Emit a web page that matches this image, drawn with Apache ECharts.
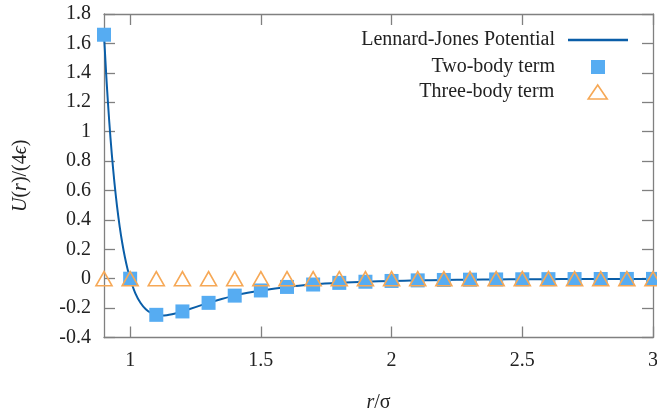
<!DOCTYPE html>
<html><head><meta charset="utf-8">
<script src="https://cdn.jsdelivr.net/npm/echarts@6/dist/echarts.min.js"></script>
<style>html,body{margin:0;padding:0;background:#fff}#c{width:657px;height:418px}</style>
</head><body><div id="c"></div>
<script>
// Lennard-Jones curve samples [r, U/(4eps)]
const ljR = [0.9,0.91,0.92,0.93,0.94,0.95,0.96,0.97,0.98,0.99,1.0,1.02,1.04,1.06,1.08,1.1,1.12,1.14,1.16,1.18,1.2,1.25,1.3,1.35,1.4,1.45,1.5,1.6,1.7,1.8,1.9,2.0,2.1,2.2,2.3,2.4,2.5,2.6,2.7,2.8,2.9,3.0];
const ljU = [1.659,1.340,1.0707,0.8433,0.6516,0.4903,0.3546,0.2407,0.1455,0.0660,0,-0.0995,-0.1657,-0.2080,-0.2331,-0.2458,-0.2500,-0.2480,-0.2420,-0.2332,-0.2227,-0.1934,-0.1643,-0.1379,-0.1152,-0.0960,-0.0801,-0.0561,-0.0397,-0.0285,-0.0208,-0.0154,-0.0115,-0.0087,-0.0067,-0.0052,-0.0041,-0.0032,-0.0026,-0.0021,-0.0017,-0.0014];
// sampled terms
const termR = [0.9,1.0,1.1,1.2,1.3,1.4,1.5,1.6,1.7,1.8,1.9,2.0,2.1,2.2,2.3,2.4,2.5,2.6,2.7,2.8,2.9,3.0];
const twoBody = [1.659,0,-0.2458,-0.2227,-0.1643,-0.1152,-0.0801,-0.0561,-0.0397,-0.0285,-0.0208,-0.0154,-0.0115,-0.0087,-0.0067,-0.0052,-0.0041,-0.0032,-0.0026,-0.0021,-0.0017,-0.0014];
const threeBody = [0,0,0,0,0,0,0,0,0,0,0,0,0,0,0,0,0,0,0,0,0,0];
const xTicks = [1,1.5,2,2.5,3];
const yTicks = [-0.4,-0.2,0,0.2,0.4,0.6,0.8,1,1.2,1.4,1.6,1.8];
const seriesNames = ['Lennard-Jones Potential','Two-body term','Three-body term'];

const FONT = 'Liberation Serif';
const FS = 20;
const TXT = '#222';
const FRAME = '#808080';
const LINE = '#0a5ea8', SQ = '#56acf2', TRI = '#f6a856';
const chart = echarts.init(document.getElementById('c'));
const axisBase = {
  axisLine:{show:true,onZero:false,lineStyle:{color:FRAME,width:1.3}},
  axisTick:{show:true,inside:true,length:11,lineStyle:{color:FRAME,width:1.3}},
  splitLine:{show:false}
};
const richI = {i:{fontStyle:'italic',fontFamily:FONT,fontSize:FS,color:TXT}};
function leg(name, top, right, w, h, icon, pad, extra){
  return Object.assign({
    orient:'vertical', right:right, top:top, padding:0, align:'right',
    itemWidth:w, itemHeight:h, icon:icon,
    textStyle:{fontFamily:FONT,fontSize:FS,color:TXT,padding:[0,pad,0,0]},
    data:[name]
  }, extra||{});
}
chart.setOption({
  animation:false,
  textStyle:{fontFamily:FONT},
  grid:{left:104,right:4,top:14,bottom:80.5,outerBoundsMode:'none',containLabel:false},
  legend:[
    leg(seriesNames[0], 30, 29, 60, 2.5, 'rect', 8),
    leg(seriesNames[1], 57, 52, 14, 14, 'rect', 31),
    leg(seriesNames[2], 82, 49, 19, 14, 'triangle', 29,
        {itemStyle:{color:'rgba(255,255,255,0)',borderColor:TRI,borderWidth:1.6}})
  ],
  xAxis:[
    Object.assign({}, axisBase, {type:'value',min:0.9,max:3,position:'bottom',
      name:'{i|r}/σ',nameLocation:'middle',nameGap:55,
      nameTextStyle:{fontFamily:FONT,fontSize:FS,color:TXT,rich:richI},
      axisTick:Object.assign({},axisBase.axisTick,{customValues:xTicks}),
      axisLabel:{customValues:xTicks,color:TXT,fontSize:FS,fontFamily:FONT,margin:13}}),
    Object.assign({}, axisBase, {type:'value',min:0.9,max:3,position:'top',
      axisTick:Object.assign({},axisBase.axisTick,{customValues:xTicks}),
      axisLabel:{show:false}})
  ],
  yAxis:[
    Object.assign({}, axisBase, {type:'value',min:-0.4,max:1.8,position:'left',
      name:'{i|U}({i|r})/(4{i|ϵ})',nameLocation:'middle',nameGap:73,
      nameTextStyle:{fontFamily:FONT,fontSize:FS,color:TXT,rich:richI},
      axisTick:Object.assign({},axisBase.axisTick,{customValues:yTicks}),
      axisLabel:{customValues:yTicks,color:TXT,fontSize:FS,fontFamily:FONT,margin:13}}),
    Object.assign({}, axisBase, {type:'value',min:-0.4,max:1.8,position:'right',
      axisTick:Object.assign({},axisBase.axisTick,{customValues:yTicks}),
      axisLabel:{show:false}})
  ],
  series:[
    {name:seriesNames[0],type:'line',symbol:'none',smooth:0.3,
     data:ljR.map((r,i)=>[r,ljU[i]]),lineStyle:{color:LINE,width:2},itemStyle:{color:LINE},z:2},
    {name:seriesNames[1],type:'scatter',symbol:'rect',symbolSize:14,clip:false,
     data:termR.map((r,i)=>[r,twoBody[i]]),itemStyle:{color:SQ,opacity:1},z:3},
    {name:seriesNames[2],type:'scatter',symbol:'triangle',symbolSize:[16,14],clip:false,
     data:termR.map((r,i)=>[r,threeBody[i]]),itemStyle:{color:'rgba(255,255,255,0)',borderColor:TRI,borderWidth:1.6,opacity:1},z:4}
  ]
});
</script></body></html>
